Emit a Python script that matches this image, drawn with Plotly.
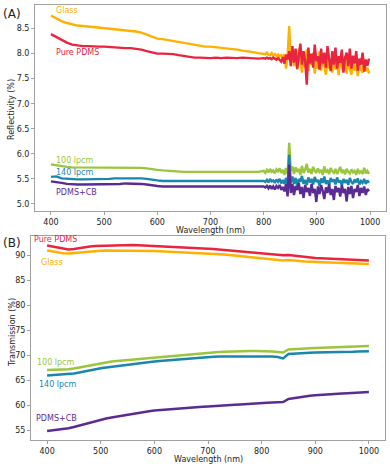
import plotly.graph_objects as go

# wavelength grids (nm)
wl_a = list(range(400, 800, 10)) + list(range(800, 1000, 3))
wl_b = list(range(400, 1001, 10))

# (A) reflectivity (%)
glass_r = [8.76, 8.70, 8.65, 8.61, 8.58, 8.56, 8.55, 8.54, 8.53, 8.52,
           8.51, 8.50, 8.49, 8.48, 8.47, 8.45, 8.44, 8.42, 8.38, 8.33,
           8.30, 8.29, 8.27, 8.25, 8.23, 8.21, 8.19, 8.17, 8.15, 8.14,
           8.14, 8.13, 8.12, 8.11, 8.09, 8.08, 8.06, 8.05, 8.03, 8.01,
           8.00, 7.99, 8.02, 7.98, 7.97, 8.01, 7.96, 7.99, 7.95, 7.98,
           7.94, 7.97, 7.93, 7.99, 7.70, 7.95, 8.55, 7.82, 8.05, 7.75,
           7.95, 7.68, 8.10, 7.80, 7.62, 7.98, 7.72, 8.08, 7.65, 7.90,
           7.78, 8.02, 7.60, 7.85, 7.70, 8.05, 7.66, 7.92, 7.75, 7.58,
           7.95, 7.70, 7.85, 7.62, 8.00, 7.68, 7.80, 7.57, 7.90, 7.72,
           7.65, 7.95, 7.60, 7.82, 7.70, 7.58, 7.88, 7.66, 7.78, 7.55,
           7.85, 7.68, 7.62, 7.90, 7.65, 7.72, 7.60]
pdms_r = [8.39, 8.33, 8.27, 8.22, 8.18, 8.16, 8.15, 8.15, 8.14, 8.14,
          8.14, 8.13, 8.12, 8.12, 8.11, 8.11, 8.10, 8.08, 8.05, 8.02,
          8.00, 8.00, 8.00, 7.99, 7.97, 7.95, 7.93, 7.92, 7.92, 7.91,
          7.91, 7.92, 7.91, 7.92, 7.91, 7.91, 7.92, 7.91, 7.91, 7.90,
          7.91, 7.90, 7.92, 7.90, 7.91, 7.89, 7.92, 7.90, 7.88, 7.91,
          7.87, 7.84, 7.93, 7.80, 7.98, 7.88, 8.05, 7.75, 8.15, 7.82,
          8.10, 7.70, 7.95, 8.20, 7.78, 8.05, 7.85, 7.38, 8.12, 7.80,
          8.00, 7.72, 8.18, 7.85, 7.95, 7.68, 8.10, 7.80, 8.02, 7.72,
          8.15, 7.88, 7.65, 8.05, 7.78, 8.12, 7.70, 7.95, 7.82, 8.08,
          7.62, 7.92, 8.02, 7.75, 8.10, 7.70, 7.96, 7.80, 8.05, 7.66,
          7.90, 7.78, 8.02, 7.64, 7.88, 7.76, 7.90]
lp100_r = [5.79, 5.77, 5.75, 5.74, 5.73, 5.73, 5.72, 5.72, 5.72, 5.72,
           5.72, 5.72, 5.72, 5.72, 5.73, 5.73, 5.72, 5.72, 5.71, 5.69,
           5.68, 5.67, 5.66, 5.65, 5.64, 5.64, 5.64, 5.64, 5.64, 5.64,
           5.64, 5.64, 5.64, 5.64, 5.64, 5.64, 5.65, 5.64, 5.65, 5.64,
           5.66, 5.62, 5.68, 5.63, 5.70, 5.64, 5.67, 5.61, 5.69, 5.65,
           5.71, 5.62, 5.68, 5.58, 5.72, 5.60, 6.22, 5.66, 5.75, 5.60,
           5.73, 5.64, 5.70, 5.58, 5.76, 5.62, 5.68, 5.80, 5.63, 5.70,
           5.60, 5.74, 5.66, 5.62, 5.71, 5.64, 5.68, 5.58, 5.75, 5.63,
           5.67, 5.60, 5.72, 5.65, 5.62, 5.70, 5.60, 5.66, 5.74, 5.62,
           5.68, 5.59, 5.70, 5.64, 5.61, 5.69, 5.63, 5.66, 5.58, 5.70,
           5.62, 5.65, 5.60, 5.72, 5.61, 5.66, 5.60]
lp140_r = [5.54, 5.55, 5.51, 5.50, 5.49, 5.49, 5.49, 5.49, 5.50, 5.50,
           5.50, 5.50, 5.51, 5.51, 5.52, 5.52, 5.52, 5.51, 5.50, 5.48,
           5.47, 5.46, 5.46, 5.45, 5.45, 5.45, 5.45, 5.45, 5.45, 5.45,
           5.45, 5.45, 5.45, 5.45, 5.45, 5.45, 5.45, 5.45, 5.45, 5.46,
           5.46, 5.44, 5.48, 5.43, 5.50, 5.45, 5.47, 5.42, 5.49, 5.44,
           5.50, 5.41, 5.48, 5.40, 5.52, 5.38, 5.98, 5.42, 5.55, 5.40,
           5.52, 5.37, 5.50, 5.44, 5.56, 5.40, 5.48, 5.38, 5.53, 5.43,
           5.50, 5.39, 5.54, 5.44, 5.48, 5.36, 5.51, 5.42, 5.55, 5.40,
           5.47, 5.38, 5.52, 5.44, 5.49, 5.39, 5.53, 5.43, 5.47, 5.37,
           5.50, 5.42, 5.48, 5.38, 5.52, 5.44, 5.40, 5.49, 5.43, 5.51,
           5.39, 5.46, 5.42, 5.50, 5.40, 5.47, 5.42]
cb_r = [5.45, 5.44, 5.42, 5.40, 5.39, 5.39, 5.39, 5.39, 5.39, 5.39,
        5.39, 5.40, 5.40, 5.40, 5.41, 5.41, 5.41, 5.40, 5.39, 5.37,
        5.36, 5.35, 5.35, 5.34, 5.34, 5.34, 5.34, 5.34, 5.34, 5.34,
        5.34, 5.34, 5.34, 5.34, 5.34, 5.34, 5.34, 5.34, 5.34, 5.35,
        5.35, 5.33, 5.36, 5.31, 5.37, 5.30, 5.35, 5.29, 5.36, 5.32,
        5.38, 5.28, 5.34, 5.25, 5.40, 5.15, 5.78, 5.22, 5.40, 5.18,
        5.36, 5.28, 5.42, 5.20, 5.34, 5.12, 5.38, 5.24, 5.32, 5.16,
        5.40, 5.22, 5.30, 5.04, 5.35, 5.20, 5.38, 5.26, 5.10, 5.33,
        5.22, 5.40, 5.18, 5.30, 5.08, 5.36, 5.24, 5.32, 5.15, 5.38,
        5.22, 5.30, 5.05, 5.34, 5.20, 5.36, 5.12, 5.30, 5.24, 5.38,
        5.16, 5.32, 5.22, 5.35, 5.18, 5.30, 5.25]

# (B) transmission (%)
pdms_t = [91.9, 91.7, 91.4, 91.2, 91.1, 91.2, 91.4, 91.6, 91.7, 91.8,
          91.85, 91.9, 91.95, 92.0, 92.0, 92.0, 92.0, 91.95, 91.9, 91.9,
          91.85, 91.8, 91.75, 91.7, 91.6, 91.5, 91.45, 91.4, 91.35, 91.3,
          91.25, 91.2, 91.1, 91.0, 90.9, 90.8, 90.7, 90.6, 90.5, 90.4,
          90.3, 90.2, 90.15, 90.05, 89.95, 90.0, 89.85, 89.7, 89.6, 89.5,
          89.4, 89.35, 89.3, 89.25, 89.2, 89.15, 89.1, 89.05, 89.0, 89.0,
          88.9]
glass_t = [90.9, 90.7, 90.5, 90.35, 90.3, 90.4, 90.55, 90.7, 90.75, 90.8,
           90.85, 90.9, 90.9, 90.95, 90.95, 90.95, 90.95, 90.9, 90.9, 90.85,
           90.8, 90.75, 90.7, 90.65, 90.6, 90.55, 90.5, 90.5, 90.5, 90.45,
           90.4, 90.3, 90.2, 90.1, 90.0, 89.9, 89.8, 89.7, 89.6, 89.5,
           89.4, 89.3, 89.2, 89.1, 88.9, 89.0, 88.85, 88.75, 88.7, 88.65,
           88.6, 88.55, 88.5, 88.45, 88.4, 88.35, 88.3, 88.3, 88.25, 88.2,
           88.2]
lp100_t = [67.0, 67.0, 67.05, 67.1, 67.15, 67.3, 67.5, 67.8, 68.0, 68.2,
           68.4, 68.55, 68.7, 68.8, 68.9, 69.0, 69.1, 69.2, 69.3, 69.4,
           69.5, 69.6, 69.7, 69.8, 69.9, 70.0, 70.1, 70.2, 70.3, 70.4,
           70.5, 70.55, 70.6, 70.65, 70.7, 70.7, 70.75, 70.75, 70.8, 70.8,
           70.8, 70.75, 70.7, 70.6, 70.5, 71.1, 71.2, 71.25, 71.3, 71.35,
           71.4, 71.45, 71.5, 71.5, 71.55, 71.6, 71.6, 71.65, 71.7, 71.7,
           71.8]
lp140_t = [65.9, 65.95, 66.0, 66.1, 66.15, 66.3, 66.5, 66.75, 67.0, 67.2,
           67.35, 67.5, 67.65, 67.8, 67.9, 68.0, 68.15, 68.3, 68.45, 68.6,
           68.7, 68.8, 68.9, 69.0, 69.1, 69.2, 69.3, 69.4, 69.5, 69.55,
           69.6, 69.65, 69.7, 69.7, 69.75, 69.75, 69.8, 69.8, 69.8, 69.8,
           69.8, 69.75, 69.7, 69.6, 69.3, 70.2, 70.3, 70.35, 70.4, 70.45,
           70.5, 70.5, 70.55, 70.55, 70.6, 70.6, 70.65, 70.65, 70.7, 70.7,
           70.75]
cb_t = [54.8, 54.9, 55.0, 55.15, 55.35, 55.6, 55.9, 56.2, 56.5, 56.8,
        57.05, 57.3, 57.5, 57.7, 57.9, 58.1, 58.3, 58.45, 58.6, 58.75,
        58.9, 59.0, 59.1, 59.2, 59.3, 59.4, 59.5, 59.55, 59.6, 59.65,
        59.7, 59.8, 59.85, 59.9, 60.0, 60.05, 60.1, 60.2, 60.25, 60.3,
        60.4, 60.45, 60.5, 60.6, 60.6, 61.2, 61.4, 61.55, 61.7, 61.85,
        61.95, 62.05, 62.1, 62.2, 62.25, 62.3, 62.35, 62.4, 62.45, 62.5,
        62.6]

names = ['Glass', 'Pure PDMS', '100 lpcm', '140 lpcm', 'PDMS+CB']
colors = ['#FFB000', '#E8243F', '#9BC53D', '#1A86AE', '#5B2B94']

FONT = 'DejaVu Sans'
W, H = 390, 464

fig = go.Figure()

refl = [glass_r, pdms_r, lp100_r, lp140_r, cb_r]
trans = [glass_t, pdms_t, lp100_t, lp140_t, cb_t]
for name, col, ys in zip(names, colors, refl):
    fig.add_trace(go.Scatter(x=wl_a, y=ys, mode='lines', name=name,
                             line=dict(color=col, width=2.4), xaxis='x', yaxis='y'))
for name, col, ys in zip(names, colors, trans):
    fig.add_trace(go.Scatter(x=wl_b, y=ys, mode='lines', name=name,
                             line=dict(color=col, width=2.4), xaxis='x2', yaxis='y2'))

# pixel box -> paper domain
def xdom(l, r):
    return [l / W, r / W]

def ydom(t, b):
    return [1 - b / H, 1 - t / H]

ax_style = dict(showline=True, linecolor='#a0a0a0', linewidth=1, mirror=True,
                ticks='outside', ticklen=3, tickcolor='#a0a0a0',
                showgrid=False, zeroline=False,
                tickfont=dict(family=FONT, size=8, color='#222'))

fig.update_layout(
    width=W, height=H, showlegend=False,
    margin=dict(l=0, r=0, t=0, b=0),
    paper_bgcolor='white', plot_bgcolor='white',
    xaxis=dict(domain=xdom(35, 386), range=[370, 1030], anchor='y',
               tickvals=[400, 500, 600, 700, 800, 900, 1000], **ax_style),
    yaxis=dict(domain=ydom(5, 211), range=[4.86, 8.97], anchor='x',
               tickvals=[5.0, 5.5, 6.0, 6.5, 7.0, 7.5, 8.0, 8.5],
               tickformat='.1f', **ax_style),
    xaxis2=dict(domain=xdom(31, 385), range=[370, 1030], anchor='y2',
                tickvals=[400, 500, 600, 700, 800, 900, 1000], **ax_style),
    yaxis2=dict(domain=ydom(236, 440), range=[53.0, 93.8], anchor='x2',
                tickvals=[55, 60, 65, 70, 75, 80, 85, 90], **ax_style),
)

# curve labels in data coordinates
labels_a = [('Glass', 405, 8.86), ('Pure PDMS', 405, 8.03), ('100 lpcm', 405, 5.87),
            ('140 lpcm', 405, 5.63), ('PDMS+CB', 405, 5.23)]
labels_b = [('Pure PDMS', 371, 93.1), ('Glass', 385, 88.5), ('100 lpcm', 378, 68.5),
            ('140 lpcm', 381, 64.2), ('PDMS+CB', 376, 57.3)]
for (txt, x, y), col in zip(labels_a, colors):
    fig.add_annotation(x=x, y=y, xref='x', yref='y', text=txt, showarrow=False,
                       xanchor='left', yanchor='middle',
                       font=dict(family=FONT, size=8, color=col))
for (txt, x, y) in labels_b:
    col = colors[names.index(txt)]
    fig.add_annotation(x=x, y=y, xref='x2', yref='y2', text=txt, showarrow=False,
                       xanchor='left', yanchor='middle',
                       font=dict(family=FONT, size=8, color=col))

# axis titles and panel letters
def ann(text, px, py, size=8, angle=0, xanchor='center'):
    fig.add_annotation(x=px / W, y=1 - py / H, xref='paper', yref='paper', text=text,
                       showarrow=False, textangle=angle, xanchor=xanchor, yanchor='middle',
                       font=dict(family=FONT, size=size, color='#222'))

ann('Wavelength (nm)', 210, 231)
ann('Wavelength (nm)', 208, 459)
ann('Reflectivity (%)', 12, 110, angle=-90)
ann('Transmission (%)', 12, 333, angle=-90)
ann('(A)', 1, 14, size=12, xanchor='left')
ann('(B)', 1, 243, size=12, xanchor='left')

# page body has a default 8px margin, drop it so the figure fills the window
fig.write_html("out.html", config={'displayModeBar': False},
               post_script="document.body.style.margin='0';")
